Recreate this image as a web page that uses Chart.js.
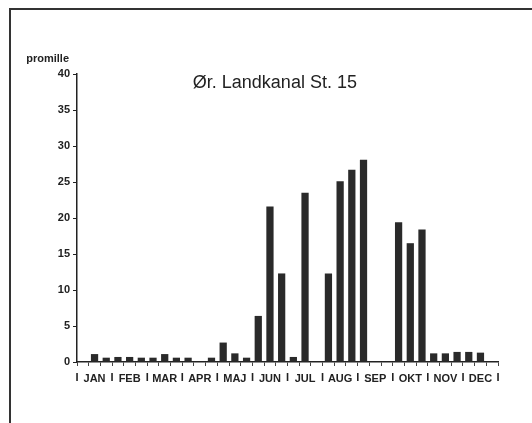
<!DOCTYPE html>
<html>
<head>
<meta charset="utf-8">
<script src="https://cdn.jsdelivr.net/npm/chart.js@4/dist/chart.umd.min.js"></script>
<style>
    body { margin: 0; background: #fff; }
    #wrap { position: relative; width: 532px; height: 423px; overflow: hidden; }
    #frame { position: absolute; left: 9px; top: 8px; width: 540px; height: 440px;
             border-left: 2px solid #333; border-top: 2px solid #333; }
    canvas { position: absolute; left: 0; top: 0; }
</style>
</head>
<body>
<div id="wrap">
    <div id="frame"></div>
    <canvas id="chart-promille" width="532" height="423"></canvas>
</div>
<script>
// data: three samples per month, null = no bar
var months = ['JAN', 'FEB', 'MAR', 'APR', 'MAJ', 'JUN', 'JUL', 'AUG', 'SEP', 'OKT', 'NOV', 'DEC'];
var values = [
    null, 1.1, 0.6,
    0.7, 0.7, 0.6,
    0.6, 1.1, 0.6,
    0.6, null, 0.6,
    2.7, 1.2, 0.6,
    6.4, 21.6, 12.3,
    0.7, 23.5, null,
    12.3, 25.1, 26.7,
    28.1, null, null,
    19.4, 16.5, 18.4,
    1.2, 1.2, 1.4,
    1.4, 1.3, null
];
var yMin = 0, yMax = 40, yStep = 5;
var title = 'Ør. Landkanal St. 15';
var yUnit = 'promille';

var labels = values.map(function(v, i) { return months[Math.floor(i / 3)] + ' ' + (i % 3 + 1); });
var ink = '#222';
var fontFam = '"Liberation Sans", Arial, sans-serif';

var textPlugin = {
    id: 'texts',
    afterDraw: function(chart) {
        var ctx = chart.ctx;
        var x = chart.scales.x;
        var area = chart.chartArea;
        ctx.save();
        ctx.fillStyle = ink;

        // title
        ctx.font = '18px ' + fontFam;
        ctx.textAlign = 'center';
        ctx.textBaseline = 'alphabetic';
        ctx.fillText(title, area.left + (area.right - area.left) * 0.47, area.top + 14);

        // unit over y axis
        ctx.font = 'bold 11px ' + fontFam;
        ctx.textAlign = 'right';
        ctx.textBaseline = 'middle';
        ctx.fillText(yUnit, area.left - 8, area.top - 15);

        // month separators
        ctx.textAlign = 'center';
        ctx.textBaseline = 'top';
        ctx.font = 'bold 11px ' + fontFam;
        var w = (x.right - x.left) / months.length;
        for (var k = 0; k <= months.length; k++) {
            ctx.fillText('I', x.left + k * w, x.top + 10);
        }
        ctx.restore();
    }
};

var myChart = new Chart(document.getElementById('chart-promille'), {
    type: 'bar',
    data: {
        labels: labels,
        datasets: [{
            data: values,
            backgroundColor: '#2a2a2a',
            borderWidth: 0,
            barPercentage: 0.62,
            categoryPercentage: 1
        }]
    },
    options: {
        responsive: false,
        devicePixelRatio: 1,
        animation: false,
        layout: { padding: { left: 0, top: 74, right: 34, bottom: 0 } },
        plugins: { legend: { display: false }, tooltip: { enabled: false }, title: { display: false } },
        scales: {
            x: {
                offset: true,
                grid: { offset: true, drawOnChartArea: false, tickLength: 4, color: '#444', lineWidth: 1 },
                border: { color: ink, width: 1.5 },
                ticks: {
                    autoSkip: false, maxRotation: 0, minRotation: 0, padding: 6,
                    color: ink, font: { family: fontFam, size: 11, weight: 'bold' },
                    callback: function(v, i) { return i % 3 === 1 ? months[Math.floor(i / 3)] : ''; }
                },
                afterFit: function(scale) { scale.height = 61; }
            },
            y: {
                min: yMin, max: yMax,
                grid: { drawOnChartArea: false, tickLength: 4, color: ink, lineWidth: 1 },
                border: { color: ink, width: 1.5 },
                ticks: { stepSize: yStep, padding: 3, color: ink, font: { family: fontFam, size: 11, weight: 'bold' } },
                afterFit: function(scale) { scale.width = 77; }
            }
        }
    },
    plugins: [textPlugin]
});
</script>
</body>
</html>
